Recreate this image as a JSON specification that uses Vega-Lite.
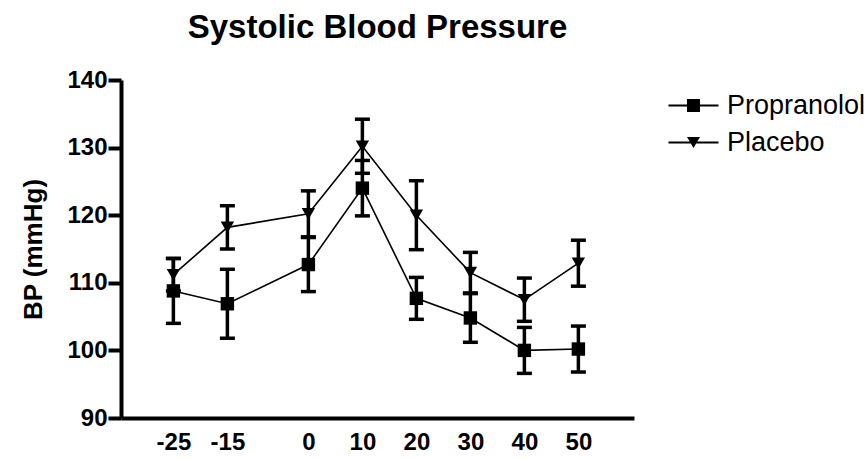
{
  "$schema": "https://vega.github.io/schema/vega-lite/v6.json",
  "width": 513,
  "height": 338,
  "padding": {"left": 20, "top": 12, "right": 5, "bottom": 5},
  "background": "white",
  "title": {
    "text": "Systolic Blood Pressure",
    "font": "Liberation Sans",
    "fontSize": 33,
    "fontWeight": "bold",
    "color": "black",
    "anchor": "middle",
    "frame": "group",
    "baseline": "alphabetic",
    "offset": -3
  },
  "data": {
    "values": [
      {"group": "Propranolol", "time": -25, "bp": 108.8, "sem": 4.8},
      {"group": "Propranolol", "time": -15, "bp": 106.9, "sem": 5.1},
      {"group": "Propranolol", "time": 0, "bp": 112.7, "sem": 4.0},
      {"group": "Propranolol", "time": 10, "bp": 124.0, "sem": 4.1},
      {"group": "Propranolol", "time": 20, "bp": 107.7, "sem": 3.1},
      {"group": "Propranolol", "time": 30, "bp": 104.8, "sem": 3.6},
      {"group": "Propranolol", "time": 40, "bp": 100.0, "sem": 3.4},
      {"group": "Propranolol", "time": 50, "bp": 100.2, "sem": 3.4},
      {"group": "Placebo", "time": -25, "bp": 111.2, "sem": 2.4},
      {"group": "Placebo", "time": -15, "bp": 118.2, "sem": 3.2},
      {"group": "Placebo", "time": 0, "bp": 120.2, "sem": 3.4},
      {"group": "Placebo", "time": 10, "bp": 130.2, "sem": 4.0},
      {"group": "Placebo", "time": 20, "bp": 120.0, "sem": 5.1},
      {"group": "Placebo", "time": 30, "bp": 111.5, "sem": 3.0},
      {"group": "Placebo", "time": 40, "bp": 107.5, "sem": 3.2},
      {"group": "Placebo", "time": 50, "bp": 112.9, "sem": 3.4}
    ]
  },
  "encoding": {
    "x": {
      "field": "time",
      "type": "quantitative",
      "scale": {"domain": [-34.7, 60.3], "nice": false, "zero": false},
      "axis": {
        "title": null,
        "values": [-25, -15, 0, 10, 20, 30, 40, 50],
        "labelExpr": "'' + datum.value",
        "ticks": false,
        "labelPadding": 12,
        "labelFontSize": 24,
        "labelFontWeight": "bold",
        "labelFont": "Liberation Sans",
        "labelColor": "black",
        "domainColor": "black",
        "domainWidth": 4,
        "grid": false,
        "labelFlush": false,
        "labelOverlap": false
      }
    },
    "y": {
      "field": "bp",
      "type": "quantitative",
      "scale": {"domain": [90, 140], "nice": false, "zero": false},
      "axis": {
        "title": "BP (mmHg)",
        "titleFont": "Liberation Sans",
        "titleFontSize": 26,
        "titleFontWeight": "bold",
        "titleColor": "black",
        "titlePadding": 20,
        "values": [90, 100, 110, 120, 130, 140],
        "tickSize": 13,
        "tickWidth": 4,
        "tickColor": "black",
        "labelPadding": 1,
        "labelFontSize": 24,
        "labelFontWeight": "bold",
        "labelFont": "Liberation Sans",
        "labelColor": "black",
        "domainColor": "black",
        "domainWidth": 4,
        "grid": false,
        "labelFlush": false,
        "labelOverlap": false
      }
    }
  },
  "layer": [
    {
      "mark": {"type": "line", "color": "black", "strokeWidth": 1.6},
      "encoding": {"detail": {"field": "group"}}
    },
    {
      "mark": {
        "type": "errorbar",
        "ticks": {"opacity": 1, "color": "black"},
        "rule": {"opacity": 1, "color": "black"},
        "size": 15,
        "thickness": 3.5,
        "color": "black",
        "opacity": 1
      },
      "encoding": {
        "yError": {"field": "sem"}
      }
    },
    {
      "mark": {"type": "point", "filled": true, "color": "black", "opacity": 1, "size": 180},
      "encoding": {
        "shape": {
          "field": "group",
          "type": "nominal",
          "scale": {"domain": ["Propranolol", "Placebo"], "range": ["square", "triangle-down"]},
          "legend": null
        }
      }
    },
    {
      "mark": {"type": "point", "filled": true, "color": "black", "opacity": 0, "size": 100},
      "encoding": {
        "shape": {
          "field": "group",
          "type": "nominal",
          "scale": {
            "domain": ["Propranolol", "Placebo"],
            "range": [
              "M-5,-0.2H5V0.2H-5ZM-1.3,-1.3H1.3V1.3H-1.3Z",
              "M-5,-0.2H5V0.2H-5ZM-1.3,-1.1L1.3,-1.1L0,1.1Z"
            ]
          },
          "legend": {
            "title": null,
            "orient": "right",
            "offset": 34,
            "padding": 12,
            "symbolSize": 100,
            "symbolOpacity": 1,
            "symbolFillColor": "black",
            "symbolStrokeWidth": 0,
            "labelFont": "Liberation Sans",
            "labelFontSize": 27,
            "labelColor": "black",
            "labelOffset": 20,
            "rowPadding": 9,
            "encode": {
              "symbols": {
                "update": {
                  "opacity": {"value": 1},
                  "fill": {"value": "black"},
                  "strokeWidth": {"value": 0}
                }
              }
            }
          }
        }
      }
    }
  ],
  "resolve": {"scale": {"shape": "independent"}},
  "config": {
    "view": {"stroke": null},
    "font": "Liberation Sans"
  }
}
